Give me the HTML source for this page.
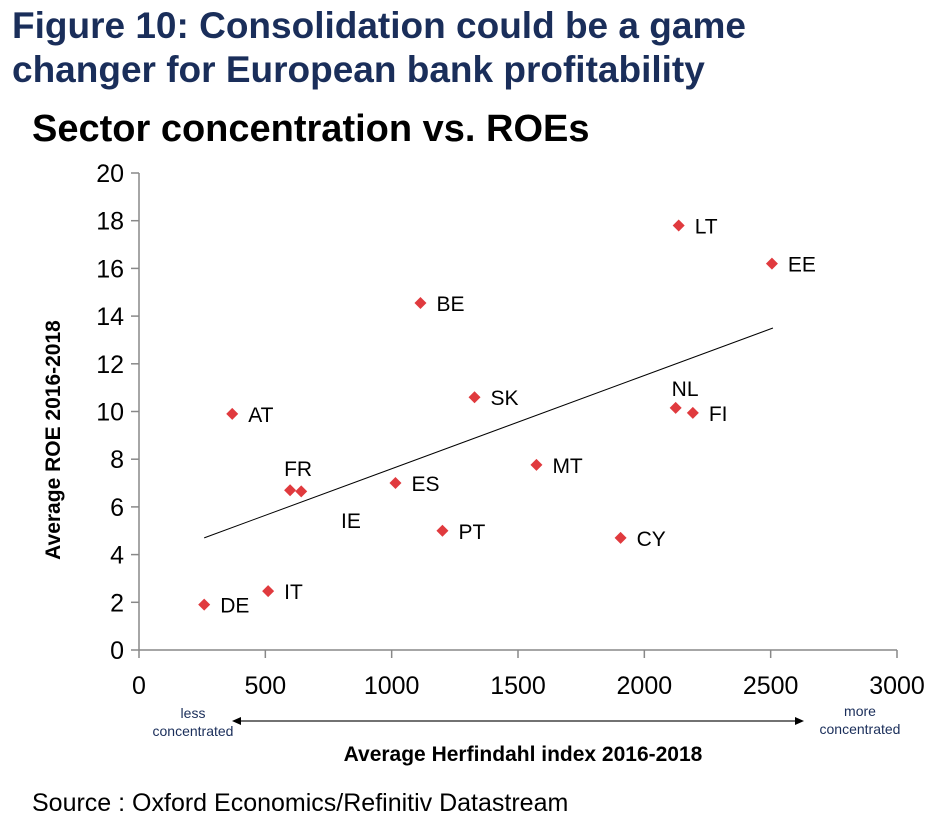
<!DOCTYPE html>
<html><head><meta charset="utf-8"><style>
body{margin:0;background:#fff;width:939px;height:834px;overflow:hidden;font-family:"Liberation Sans",Arial,sans-serif}
</style></head><body>
<svg id="chart" width="939" height="834" xmlns="http://www.w3.org/2000/svg" font-family="Liberation Sans, Arial, sans-serif">
<text x="12" y="38" font-size="37" font-weight="bold" fill="#1a2e5a">Figure 10: Consolidation could be a game</text>
<text x="12" y="82" font-size="37" font-weight="bold" fill="#1a2e5a">changer for European bank profitability</text>
<text x="32" y="141" font-size="38" font-weight="bold" fill="#000">Sector concentration vs. ROEs</text>
<g id="axes"></g>
<g id="marks"></g>
<text x="60" y="440" font-size="21" font-weight="bold" transform="rotate(-90 60 440)" text-anchor="middle">Average ROE 2016-2018</text>
<text x="523" y="761" font-size="21" font-weight="bold" text-anchor="middle">Average Herfindahl  index 2016-2018</text>
<text x="193" y="718" font-size="14" text-anchor="middle" fill="#1a2e5a">less</text>
<text x="193" y="736" font-size="14" text-anchor="middle" fill="#1a2e5a">concentrated</text>
<text x="860" y="716" font-size="14" text-anchor="middle" fill="#1a2e5a">more</text>
<text x="860" y="734" font-size="14" text-anchor="middle" fill="#1a2e5a">concentrated</text>
<line x1="238" y1="721" x2="798" y2="721" stroke="#444" stroke-width="1.5"/>
<polygon points="232,721 241,717 241,725" fill="#000"/>
<polygon points="804,721 795,717 795,725" fill="#000"/>
<text x="32" y="811" font-size="25" fill="#000">Source : Oxford Economics/Refinitiv Datastream</text>
</svg>
<script>
const countries=["DE","IT","AT","FR","FR2","ES","BE","SK","PT","MT","CY","LT","EE","NL","FI"];
const herfindahl=[258,511,369,598,642,1015,1114,1328,1201,1573,1906,2136,2505,2124,2192];
const roe=[1.9,2.47,9.9,6.7,6.65,7.0,14.55,10.6,5.0,7.76,4.7,17.8,16.2,10.15,9.94];
const trendX=[258,2509];
const trendY=[4.7,13.5];
const xTicks=[0,500,1000,1500,2000,2500,3000];
const yTicks=[0,2,4,6,8,10,12,14,16,18,20];
const NS="http://www.w3.org/2000/svg";
const X0=139,X1=897,Y0=650,Y1=173;
const sx=v=>X0+(v/3000)*(X1-X0);
const sy=v=>Y0-(v/20)*(Y0-Y1);
function mk(tag,attrs,parent){const e=document.createElementNS(NS,tag);for(const k in attrs)e.setAttribute(k,attrs[k]);parent.appendChild(e);return e;}
const ax=document.getElementById('axes'),mg=document.getElementById('marks');
let l=mk('line',{x1:X0,y1:Y1,x2:X0,y2:Y0,stroke:'#888','stroke-width':1.5},ax);


l=mk('line',{x1:X0,y1:Y0,x2:X1,y2:Y0,stroke:'#888','stroke-width':1.5},ax);


yTicks.forEach(v=>{
 const t=mk('line',{x1:X0-8,x2:X0,y1:sy(v),y2:sy(v),stroke:'#888','stroke-width':1.5},ax);
 
 
 const tx=mk('text',{x:X0-15,y:sy(v)+9,'font-size':25,'text-anchor':'end'},ax);tx.textContent=v;
 
 
});
xTicks.forEach(v=>{
 const t=mk('line',{x1:sx(v),x2:sx(v),y1:Y0,y2:Y0+8,stroke:'#888','stroke-width':1.5},ax);
 
 
 const tx=mk('text',{x:sx(v),y:Y0+44,'font-size':25,'text-anchor':'middle'},ax);tx.textContent=v;
 
 
});
const tl=mk('line',{x1:sx(trendX[0]),y1:sy(trendY[0]),x2:sx(trendX[1]),y2:sy(trendY[1]),stroke:'#000','stroke-width':1},mg);


const special={FR:[-6,-22],NL:[-4,-20],FR2:null};
countries.forEach((c,i)=>{
 const x=sx(herfindahl[i]),y=sy(roe[i]);
 const p=mk('polygon',{points:`${x},${y-6} ${x+6},${y} ${x},${y+6} ${x-6},${y}`,fill:'#e03a3e'},mg);
 
 
 if(special[c]===null)return;
 const o=special[c]||[16,0];
 const t=mk('text',{x:x+o[0],y:y+o[1]+8,'font-size':21},mg);t.textContent=c;
 
 
});
const ie=mk('text',{x:341,y:528,'font-size':21},mg);ie.textContent='IE';


</script>
</body></html>
